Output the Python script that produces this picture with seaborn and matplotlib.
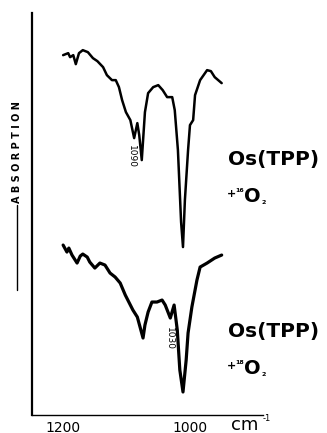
import matplotlib
matplotlib.use("Agg")
import matplotlib.pyplot as plt
import seaborn as sns
from matplotlib.lines import Line2D

sns.set_style("white")
plt.rcParams['font.family'] = ['DejaVu Sans']
plt.rcParams['text.color'] = 'black'
plt.rcParams['xtick.color'] = 'black'

# wavenumbers (cm-1) and traced absorption traces (arbitrary units)
wn_top = [1200, 1192, 1189, 1184, 1180, 1175, 1169, 1161, 1153, 1146, 1137, 1131,
          1123, 1117, 1112, 1107, 1101, 1094, 1088, 1083, 1080, 1076, 1071, 1066,
          1058, 1050, 1043, 1036, 1028, 1024, 1019, 1014, 1011, 1008, 1003, 1000,
          995, 992, 984, 973, 967, 961, 950]
abs_top = [360, 362, 358, 360, 351, 362, 365, 363, 357, 354, 348, 340,
           335, 335, 328, 315, 303, 295, 277, 292, 280, 255, 303, 322,
           328, 330, 325, 318, 318, 305, 265, 193, 168, 215, 265, 290,
           295, 320, 335, 345, 344, 338, 332]

wn_bot = [1200, 1194, 1191, 1186, 1178, 1173, 1169, 1162, 1158, 1150, 1142, 1134,
          1126, 1118, 1110, 1102, 1094, 1090, 1083, 1074, 1071, 1066, 1060, 1052,
          1044, 1039, 1031, 1025, 1020, 1016, 1011, 1006, 1003, 997, 989, 984,
          973, 961, 950]
abs_bot = [170, 163, 167, 160, 152, 159, 161, 158, 153, 147, 152, 150,
           142, 138, 132, 120, 110, 105, 98, 77, 90, 103, 113, 113,
           115, 110, 97, 110, 85, 45, 23, 55, 82, 108, 135, 148,
           152, 157, 160]

tick_pos = [1200, 1150, 1100, 1050, 1000, 950]
tick_lab = ['1200', '', '', '', '1000', '']

W, H = 327, 433


def px(x, y):
    return x / W, 1 - y / H


fig = plt.figure(figsize=(3.27, 4.33), dpi=100)
ax = fig.add_axes([0.098, 0.0416, 0.706, 0.928])

sns.lineplot(x=wn_top, y=abs_top, ax=ax, color='black', lw=1.8, estimator=None)
sns.lineplot(x=wn_bot, y=abs_bot, ax=ax, color='black', lw=2.3, estimator=None)

ax.set_xlim(1249, 885)
ax.set_ylim(0, 402)
ax.set_xticks(tick_pos)
ax.set_xticklabels(tick_lab, fontsize=10)
ax.set_yticks([])
ax.tick_params(axis='x', direction='in', length=3, width=1, pad=4, colors='black')
for s in ['top', 'right']:
    ax.spines[s].set_visible(False)
ax.spines['left'].set_linewidth(1.6)
ax.spines['bottom'].set_linewidth(1.0)
ax.spines['left'].set_color('black')
ax.spines['bottom'].set_color('black')
ax.set_xlabel('')
ax.set_ylabel('')

# peak labels
ax.text(1093, 259, '1090', rotation=-90, fontsize=6.5, ha='center', va='center')
ax.text(1033, 77, '1030', rotation=-90, fontsize=6.5, ha='center', va='center')

# sample labels
for y0, iso in [(160, '16'), (332, '18')]:
    fig.text(*px(228, y0), 'Os(TPP)', fontsize=14.5, fontweight='bold',
             ha='left', va='center')
    yb = y0 + 42
    fig.text(*px(227, yb - 5), '+', fontsize=8, fontweight='bold', ha='left', va='baseline')
    fig.text(*px(235, yb - 10), iso, fontsize=4.5, fontweight='bold', ha='left', va='baseline')
    fig.text(*px(244, yb), 'O', fontsize=14, fontweight='bold', ha='left', va='baseline')
    fig.text(*px(261, yb + 2), '2', fontsize=4.5, fontweight='bold', ha='left', va='baseline')

# axis unit and y label
fig.text(*px(231, 430), 'cm', fontsize=13, ha='left', va='baseline')
fig.text(*px(263, 421), '-1', fontsize=6, ha='left', va='baseline')
fig.text(*px(17, 152), 'A B S O R P T I O N', rotation=90, fontsize=7,
         fontweight='bold', ha='center', va='center')
fig.add_artist(Line2D([17 / W, 17 / W], [1 - 205 / H, 1 - 290 / H],
                      color='black', lw=1))

fig.savefig('out.png', dpi=100)
